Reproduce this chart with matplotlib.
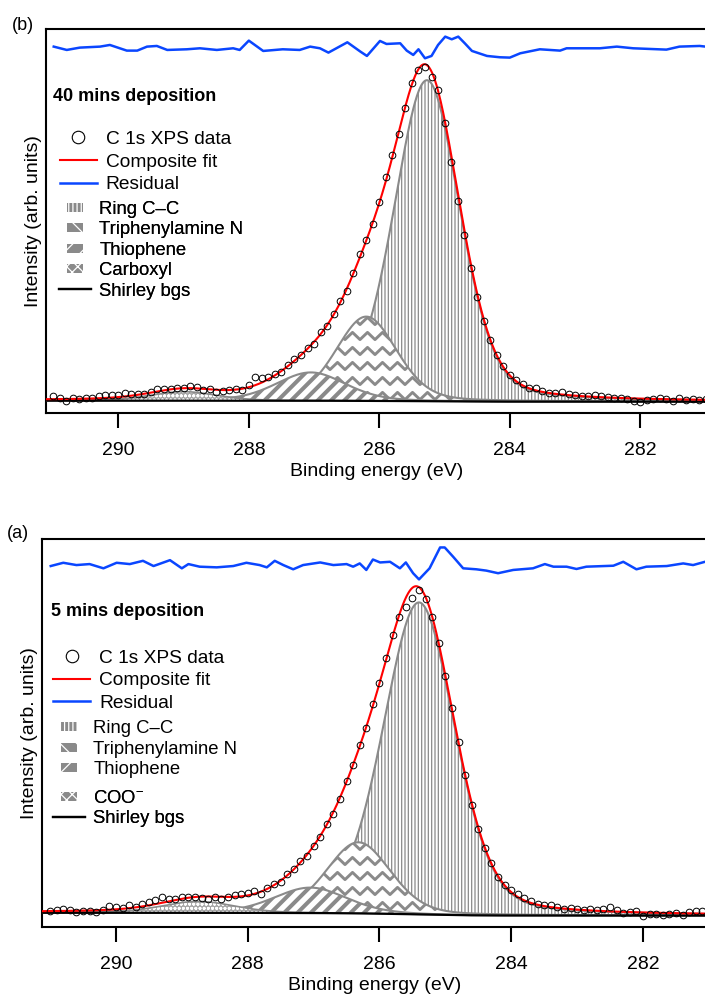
import numpy as np
import matplotlib
matplotlib.use("Agg")
import matplotlib.pyplot as plt
from matplotlib.collections import LineCollection
from matplotlib.lines import Line2D
from matplotlib.patches import Patch, Rectangle
from matplotlib.legend_handler import HandlerPatch
from matplotlib.transforms import IdentityTransform

plt.rcParams['font.family'] = ['Liberation Sans', 'DejaVu Sans']
plt.rcParams['mathtext.fontset'] = 'custom'
plt.rcParams['mathtext.rm'] = 'Liberation Sans'
plt.rcParams['mathtext.it'] = 'Liberation Sans:italic'
plt.rcParams['mathtext.bf'] = 'Liberation Sans:bold'
plt.rcParams['hatch.linewidth'] = 0.9

GRAY = '#8a8a8a'
RED = '#ff0000'
BLUE = '#0a46ff'

energy = [291.0, 290.9, 290.8, 290.7, 290.6, 290.5, 290.4, 290.3, 290.2, 290.1,
          290.0, 289.9, 289.8, 289.7, 289.6, 289.5, 289.4, 289.3, 289.2, 289.1,
          289.0, 288.9, 288.8, 288.7, 288.6, 288.5, 288.4, 288.3, 288.2, 288.1,
          288.0, 287.9, 287.8, 287.7, 287.6, 287.5, 287.4, 287.3, 287.2, 287.1,
          287.0, 286.9, 286.8, 286.7, 286.6, 286.5, 286.4, 286.3, 286.2, 286.1,
          286.0, 285.9, 285.8, 285.7, 285.6, 285.5, 285.4, 285.3, 285.2, 285.1,
          285.0, 284.9, 284.8, 284.7, 284.6, 284.5, 284.4, 284.3, 284.2, 284.1,
          284.0, 283.9, 283.8, 283.7, 283.6, 283.5, 283.4, 283.3, 283.2, 283.1,
          283.0, 282.9, 282.8, 282.7, 282.6, 282.5, 282.4, 282.3, 282.2, 282.1,
          282.0, 281.9, 281.8, 281.7, 281.6, 281.5, 281.4, 281.3, 281.2, 281.1, 281.0]

# C 1s XPS data (arb. units), 40 mins deposition (panel b)
data_top = [0.016, 0.011, 0.002, 0.011, 0.009, 0.012, 0.012, 0.016, 0.020, 0.021,
            0.020, 0.025, 0.024, 0.024, 0.024, 0.030, 0.037, 0.037, 0.037, 0.042,
            0.040, 0.047, 0.043, 0.035, 0.037, 0.030, 0.032, 0.035, 0.039, 0.036,
            0.049, 0.074, 0.070, 0.073, 0.082, 0.089, 0.110, 0.129, 0.140, 0.162,
            0.174, 0.209, 0.227, 0.264, 0.303, 0.332, 0.387, 0.442, 0.484, 0.532,
            0.600, 0.674, 0.741, 0.803, 0.881, 0.956, 0.995, 1.004, 0.976, 0.937,
            0.838, 0.719, 0.603, 0.501, 0.400, 0.315, 0.242, 0.184, 0.139, 0.107,
            0.079, 0.064, 0.052, 0.040, 0.040, 0.032, 0.026, 0.026, 0.030, 0.022,
            0.021, 0.017, 0.018, 0.020, 0.016, 0.015, 0.012, 0.011, 0.007, 0.001,
            0.000, 0.006, 0.008, 0.011, 0.007, 0.001, 0.010, 0.006, 0.009, 0.006, 0.009]

# C 1s XPS data (arb. units), 5 mins deposition (panel a)
data_bot = [0.014, 0.017, 0.020, 0.018, 0.012, 0.015, 0.013, 0.010, 0.017, 0.030,
            0.025, 0.024, 0.032, 0.025, 0.034, 0.041, 0.047, 0.058, 0.050, 0.051,
            0.058, 0.058, 0.057, 0.055, 0.052, 0.058, 0.051, 0.057, 0.064, 0.065,
            0.068, 0.076, 0.067, 0.085, 0.097, 0.104, 0.129, 0.142, 0.166, 0.184,
            0.214, 0.241, 0.282, 0.312, 0.359, 0.413, 0.463, 0.522, 0.576, 0.650,
            0.713, 0.791, 0.860, 0.916, 0.947, 0.975, 0.998, 0.971, 0.917, 0.837,
            0.736, 0.638, 0.532, 0.432, 0.338, 0.267, 0.208, 0.162, 0.118, 0.093,
            0.078, 0.066, 0.055, 0.045, 0.036, 0.032, 0.032, 0.027, 0.021, 0.023,
            0.021, 0.017, 0.019, 0.018, 0.020, 0.025, 0.018, 0.008, 0.011, 0.013,
            0.000, 0.006, 0.006, 0.002, 0.005, 0.007, 0.001, 0.010, 0.013, 0.015, 0.012]

# fitted components: center (eV), height, FWHM (eV), Lorentzian fraction
comp_names_top = ['Ring C\u2013C', 'Triphenylamine N', 'Thiophene', 'Carboxyl']
centers_top = [285.27, 286.20, 287.05, 289.00]
heights_top = [0.964, 0.253, 0.085, 0.027]
fwhm_top = [1.19, 1.10, 1.25, 1.20]
eta_top = [0.25, 0.25, 0.25, 0.25]
bg_top = (0.003, 0.0)   # Shirley background, high-BE / low-BE level

comp_names_bot = ['Ring C\u2013C', 'Triphenylamine N', 'Thiophene', 'COO$^{-}$']
centers_bot = [285.40, 286.32, 287.05, 288.75]
heights_bot = [0.957, 0.218, 0.078, 0.035]
fwhm_bot = [1.28, 1.15, 1.30, 1.30]
eta_bot = [0.25, 0.25, 0.25, 0.25]
bg_bot = (0.0086, 0.0)

res_E_top = [290.99, 290.79, 290.59, 290.28, 290.13, 289.87, 289.71, 289.56, 289.41, 289.25, 288.95, 288.75,
             288.49, 288.24, 288.14, 288.00, 287.78, 287.48, 287.22, 287.06, 286.91, 286.78, 286.49, 286.29,
             286.19, 285.99, 285.89, 285.68, 285.58, 285.48, 285.40, 285.30, 285.20, 285.10, 284.99, 284.89,
             284.79, 284.69, 284.58, 284.35, 284.15, 284.00, 283.84, 283.54, 283.23, 283.13, 282.62, 282.36,
             282.11, 281.60, 281.40, 281.09, 281.00]
res_top = [0.004, -0.006, 0.001, 0.004, 0.009, -0.008, -0.008, 0.004, 0.006, -0.006, -0.004, -0.001,
           -0.006, -0.001, -0.006, 0.022, -0.009, -0.004, -0.006, 0.004, -0.001, -0.014, 0.017, -0.011,
           -0.024, 0.021, 0.012, 0.014, -0.008, -0.021, -0.004, -0.031, -0.024, 0.009, 0.034, 0.026,
           0.034, 0.014, -0.009, -0.024, -0.028, -0.029, -0.016, -0.004, -0.008, -0.001, -0.001, 0.004,
           -0.001, -0.005, 0.004, 0.006, 0.004]
res_E_bot = [290.99, 290.80, 290.60, 290.40, 290.19, 289.99, 289.79, 289.59, 289.43, 289.18, 289.00, 288.90,
             288.73, 288.47, 288.22, 288.02, 287.82, 287.71, 287.59, 287.46, 287.31, 287.16, 286.90, 286.70,
             286.50, 286.40, 286.30, 286.20, 286.10, 285.99, 285.84, 285.69, 285.60, 285.49, 285.40, 285.24,
             285.08, 285.01, 284.88, 284.73, 284.53, 284.38, 284.20, 283.97, 283.67, 283.49, 283.36, 283.16,
             283.01, 282.86, 282.45, 282.30, 282.10, 281.95, 281.64, 281.39, 281.24, 281.06]
res_bot = [-0.003, 0.007, 0.000, 0.003, -0.010, 0.007, 0.003, 0.013, -0.003, 0.015, -0.010, 0.003,
           -0.005, -0.007, -0.003, 0.007, 0.000, -0.007, 0.013, 0.000, -0.013, 0.000, 0.008, 0.000,
           0.003, -0.005, 0.005, -0.015, 0.017, 0.008, 0.010, -0.010, 0.008, -0.025, -0.044, -0.010,
           0.054, 0.054, 0.025, -0.010, -0.013, -0.017, -0.025, -0.015, -0.010, 0.003, -0.005, -0.005,
           -0.012, -0.005, -0.002, 0.010, -0.013, -0.005, -0.003, 0.005, 0.000, 0.010]

xticks = [290, 288, 286, 284, 282]


def pseudo_voigt(E, c, h, w, eta):
    x = (np.asarray(E) - c) / (w / 2.0)
    return h * ((1 - eta) * np.exp(-np.log(2) * x ** 2) + eta / (1 + x ** 2))


def model(E, centers, heights, fwhm, eta, bg):
    comps = [pseudo_voigt(E, c, h, w, e) for c, h, w, e in zip(centers, heights, fwhm, eta)]
    tot = np.sum(comps, axis=0)
    cum = np.cumsum(tot[::-1])[::-1]
    back = bg[1] + (bg[0] - bg[1]) * cum / cum[0]
    return comps, back


def zigzag_segments(period=15.0, amp=3.6, row=15.0, W=705, H=996):
    xs = np.arange(-period, W + period, period / 2)
    sign = np.where(np.arange(len(xs)) % 2 == 0, -1.0, 1.0)
    return [np.column_stack([xs, y0 + amp * sign]) for y0 in np.arange(0, H + row, row)]


def diag_segments(spacing=13.3, W=705, H=996):
    return [[(x0, 0), (x0 + H, H)] for x0 in np.arange(-H, W, spacing)]


def small_box(legend, orig_handle, xdescent, ydescent, width, height, fontsize):
    w, h = 11.5, 6.5
    return Rectangle((-xdescent + (width - w) / 2, -ydescent + (height - h) / 2), w, h)


def draw_panel(ax, centers, heights, fwhm, eta, bg, data, res_E, res_v, res_off,
               xlim, ylim, names, title, leg_anchors, groups):
    ax.set_xlim(*xlim)
    ax.set_ylim(*ylim)
    Ef = np.linspace(291.3, 280.8, 1500)
    comps, back = model(Ef, centers, heights, fwhm, eta, bg)

    # Ring C-C: vertical-line hatch
    ax.fill_between(Ef, back, back + comps[0], facecolor='white', edgecolor=GRAY,
                    hatch='|||||', linewidth=0, zorder=2)
    ax.plot(Ef, back + comps[0], color=GRAY, lw=1.5, zorder=2.2)
    # Triphenylamine N: zigzag pattern
    zz = ax.fill_between(Ef, back, back + comps[1], facecolor='white', edgecolor='none',
                         linewidth=0, zorder=3)
    lc = LineCollection(zigzag_segments(), colors=GRAY, linewidths=2.1,
                        transform=IdentityTransform(), zorder=3.1)
    ax.add_collection(lc, autolim=False)
    lc.set_clip_path(zz.get_paths()[0], ax.transData)
    ax.plot(Ef, back + comps[1], color=GRAY, lw=1.5, zorder=3.2)
    # Thiophene: thick diagonal stripes
    th = ax.fill_between(Ef, back, back + comps[2], facecolor='white', edgecolor='none',
                         linewidth=0, zorder=4)
    lc2 = LineCollection(diag_segments(), colors=GRAY, linewidths=2.9,
                         transform=IdentityTransform(), zorder=4.1)
    ax.add_collection(lc2, autolim=False)
    lc2.set_clip_path(th.get_paths()[0], ax.transData)
    ax.plot(Ef, back + comps[2], color=GRAY, lw=1.5, zorder=4.2)
    # Carboxyl / COO-: dotted
    ax.fill_between(Ef, back, back + comps[3], facecolor='#a6a6a6', edgecolor='white',
                    hatch='oooo', linewidth=0, zorder=4.5)
    ax.plot(Ef, back + comps[3], color=GRAY, lw=1.2, zorder=4.6)

    ax.plot(Ef, back, color='black', lw=1.6, zorder=5)
    ax.plot(Ef, back + np.sum(comps, axis=0), color=RED, lw=1.5, zorder=6)
    ax.plot(energy, data, ls='none', marker='o', ms=4.8, mfc='none', mec='black', mew=0.7, zorder=7)
    ax.plot(res_E, np.array(res_v) + res_off, color=BLUE, lw=1.8, zorder=6)

    ax.set_xticks(xticks)
    ax.set_xticklabels([str(t) for t in xticks])
    ax.set_yticks([])
    ax.tick_params(axis='x', direction='out', length=10.8, width=1.5, labelsize=14, pad=10)
    for s in ['left', 'bottom', 'top']:
        ax.spines[s].set_linewidth(1.5)
    ax.spines['right'].set_visible(False)
    ax.set_xlabel('Binding energy (eV)', fontsize=14, labelpad=3)
    ax.set_ylabel('Intensity (arb. units)', fontsize=14, labelpad=3)

    ax.text(title[1], title[2], title[0], transform=ax.transAxes, fontsize=13,
            fontweight='bold', ha='left', va='center')

    handles = {
        'data': Line2D([], [], ls='none', marker='o', ms=9, mfc='none', mec='black', mew=0.8),
        'fit': Line2D([], [], color=RED, lw=1.5),
        'res': Line2D([], [], color=BLUE, lw=1.8),
        'c0': Patch(facecolor=GRAY, edgecolor='white', hatch='||||', linewidth=0),
        'c1': Patch(facecolor=GRAY, edgecolor='white', hatch='\\\\', linewidth=0),
        'c2': Patch(facecolor=GRAY, edgecolor='white', hatch='//', linewidth=0),
        'c3': Patch(facecolor=GRAY, edgecolor='white', hatch='xxx', linewidth=0),
        'bg': Line2D([], [], color='black', lw=1.6),
    }
    labels = {'data': 'C 1s XPS data', 'fit': 'Composite fit', 'res': 'Residual',
              'c0': names[0], 'c1': names[1], 'c2': names[2], 'c3': names[3], 'bg': 'Shirley bgs'}
    for keys, anchor in zip(groups, leg_anchors):
        big = keys[0] == 'data'
        leg = ax.legend([handles[k] for k in keys], [labels[k] for k in keys],
                        loc='upper left', bbox_to_anchor=anchor, frameon=False,
                        fontsize=13.8 if big else 13.3,
                        handlelength=1.91 if big else 1.70,
                        handletextpad=0.48 if big else 0.46,
                        labelspacing=0.27 if big else 0.19,
                        borderpad=0, borderaxespad=0,
                        handler_map={Patch: HandlerPatch(patch_func=small_box)})
        ax.add_artist(leg)


fig = plt.figure(figsize=(7.05, 9.96), dpi=100)
fig.patch.set_facecolor('white')

ax_top = fig.add_axes([45.7 / 705, (996 - 413.3) / 996, (707 - 45.7) / 705, 384 / 996])
ax_bot = fig.add_axes([42.3 / 705, (996 - 927.3) / 996, (707 - 42.3) / 705, 388 / 996])

draw_panel(ax_top, centers_top, heights_top, fwhm_top, eta_top, bg_top, data_top,
           res_E_top, res_top, 1.062, (291.113, 280.978), (-0.035, 1.118),
           comp_names_top, ('40 mins deposition', 0.0115, 0.8245),
           [(0.0216, 0.736), (0.0206, 0.5534)],
           [['data', 'fit', 'res'], ['c0', 'c1', 'c2', 'c3', 'bg']])
draw_panel(ax_bot, centers_bot, heights_bot, fwhm_bot, eta_bot, bg_bot, data_bot,
           res_E_bot, res_bot, 1.075, (291.118, 281.029), (-0.036, 1.154),
           comp_names_bot, ('5 mins deposition', 0.0127, 0.8134),
           [(0.0166, 0.7162), (0.0166, 0.5332), (0.0166, 0.3539)],
           [['data', 'fit', 'res'], ['c0', 'c1', 'c2'], ['c3', 'bg']])

fig.text(12 / 705, 1 - 25 / 996, '(b)', fontsize=13, va='center', ha='left')
fig.text(7 / 705, 1 - 534 / 996, '(a)', fontsize=13, va='center', ha='left')

fig.savefig('out.png', dpi=100)
